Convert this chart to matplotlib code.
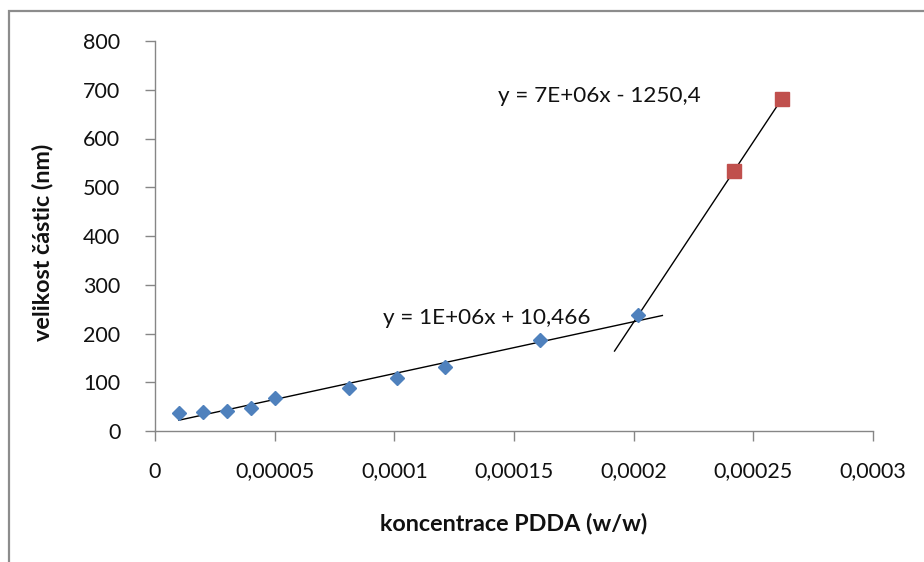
import numpy as np
import matplotlib
matplotlib.use("Agg")
import matplotlib.pyplot as plt
from matplotlib.patches import Rectangle
from matplotlib.ticker import FixedLocator, FixedFormatter

# ---- data ----
x_blue = [0.00001, 0.00002, 0.00003, 0.00004, 0.00005, 0.000081, 0.000101, 0.000121, 0.000161, 0.000202]
y_blue = [36, 38, 41, 48, 68, 88, 109, 132, 186, 237]
x_red = [0.000242, 0.000262]
y_red = [534, 682]

x_ticks = [0, 0.00005, 0.0001, 0.00015, 0.0002, 0.00025, 0.0003]
x_tick_labels = ["0", "0,00005", "0,0001", "0,00015", "0,0002", "0,00025", "0,0003"]
y_ticks = [0, 100, 200, 300, 400, 500, 600, 700, 800]
y_tick_labels = [str(v) for v in y_ticks]

eq_blue = "y = 1E+06x + 10,466"
eq_red = "y = 7E+06x - 1250,4"
x_label = "koncentrace PDDA (w/w)"
y_label = "velikost částic (nm)"

plt.rcParams['font.family'] = ['Lato', 'DejaVu Sans']

W, H = 924, 562
fig = plt.figure(figsize=(W / 100, H / 100), dpi=100)

# outer chart frame (cropped)
fig.patches.append(Rectangle((9 / W, -0.1), 1.2, 1 - 11 / H + 0.1, transform=fig.transFigure,
                             fill=False, edgecolor="#8c8c8c", linewidth=1.6))

ax = fig.add_axes([155 / W, 1 - 431 / H, (873 - 155) / W, (431 - 41) / H])
ax.set_xlim(0, 0.0003)
ax.set_ylim(0, 800)

for s in ["top", "right"]:
    ax.spines[s].set_visible(False)
for s in ["left", "bottom"]:
    ax.spines[s].set_color("#868686")
    ax.spines[s].set_linewidth(1.0)

ax.xaxis.set_major_locator(FixedLocator(x_ticks))
ax.xaxis.set_major_formatter(FixedFormatter(x_tick_labels))
ax.yaxis.set_major_locator(FixedLocator(y_ticks))
ax.yaxis.set_major_formatter(FixedFormatter(y_tick_labels))
ax.tick_params(axis="both", direction="out", length=7, width=1.0, color="#868686",
               labelsize=15.5, labelcolor="#111111")
ax.tick_params(axis="x", pad=15)
ax.tick_params(axis="y", pad=18)

# trendlines
xb = np.array(x_blue); yb = np.array(y_blue)
kb, qb = np.polyfit(xb, yb, 1)
xs_b = np.array([xb.min(), xb.max() + 0.00001])
ax.plot(xs_b, kb * xs_b + qb, color="black", linewidth=1.0, zorder=2)

xr = np.array(x_red); yr = np.array(y_red)
kr, qr = np.polyfit(xr, yr, 1)
xs_r = np.array([xr.min() - 0.00005, xr.max()])
ax.plot(xs_r, kr * xs_r + qr, color="black", linewidth=1.0, zorder=2)

ax.plot(x_blue, y_blue, linestyle="none", marker="D", markersize=7,
        color="#4F81BD", markeredgecolor="#4F81BD", zorder=3, clip_on=False)
ax.plot(x_red, y_red, linestyle="none", marker="s", markersize=10,
        color="#C0504D", markeredgecolor="#C0504D", zorder=3, clip_on=False)

ax.text(0.0000953, 232, eq_blue, fontsize=16.2, color="#111111", va="center", ha="left")
ax.text(0.0001434, 687, eq_red, fontsize=16.2, color="#111111", va="center", ha="left")

fig.text(514 / W, 1 - 524 / H, x_label, fontsize=16.8, fontweight="bold",
         ha="center", va="center", color="#111111")
fig.text(43 / W, 1 - 242 / H, y_label, fontsize=16.8, fontweight="bold", rotation=90,
         ha="center", va="center", color="#111111")

fig.savefig("out.png", dpi=100)
